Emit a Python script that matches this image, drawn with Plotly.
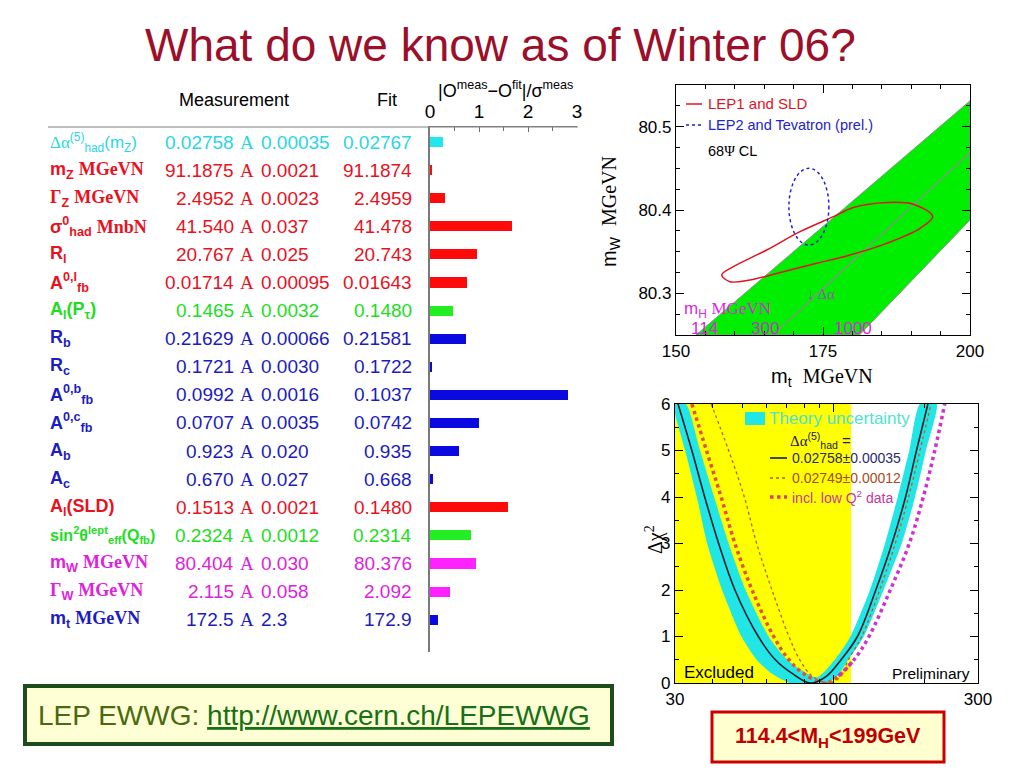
import numpy as np
import plotly.graph_objects as go

# page body adds an 8px margin, so the figure is offset by 8px
OFF = 8
W, H = 1024 - OFF, 768 - OFF
def px(x): return (x - OFF) / W
def py(y): return 1 - (y - OFF) / H

SANS = "Liberation Sans, Arial, sans-serif"
SERIF = "Liberation Serif, Times New Roman, serif"

def sf(s):
    return "<span style='font-family:Liberation Serif'>" + s + "</span>"

# ---------------- data: electroweak fit table ----------------
row_labels = [
    sf("Δα") + "<sup>(5)</sup><sub>had</sub>(m<sub>Z</sub>)",
    "m<sub>Z</sub> " + sf("MGeVN"),
    sf("Γ") + "<sub>Z</sub> " + sf("MGeVN"),
    "σ<sup>0</sup><sub>had</sub> " + sf("MnbN"),
    "R<sub>l</sub>",
    "A<sup>0,l</sup><sub>fb</sub>",
    "A<sub>l</sub>(P<sub>τ</sub>)",
    "R<sub>b</sub>",
    "R<sub>c</sub>",
    "A<sup>0,b</sup><sub>fb</sub>",
    "A<sup>0,c</sup><sub>fb</sub>",
    "A<sub>b</sub>",
    "A<sub>c</sub>",
    "A<sub>l</sub>(SLD)",
    "sin<sup>2</sup>θ<sup>lept</sup><sub>eff</sub>(Q<sub>fb</sub>)",
    "m<sub>W</sub> " + sf("MGeVN"),
    sf("Γ") + "<sub>W</sub> " + sf("MGeVN"),
    "m<sub>t</sub> " + sf("MGeVN"),
]
label_sizes = [17, 18, 18, 18, 18, 18, 18, 18, 18, 18, 18, 18, 18, 18, 16, 18, 18, 18]
label_bold = [False] + [True] * 17
meas_vals = ["0.02758", "91.1875", "2.4952", "41.540", "20.767", "0.01714", "0.1465",
             "0.21629", "0.1721", "0.0992", "0.0707", "0.923", "0.670", "0.1513",
             "0.2324", "80.404", "2.115", "172.5"]
meas_errs = ["0.00035", "0.0021", "0.0023", "0.037", "0.025", "0.00095", "0.0032",
             "0.00066", "0.0030", "0.0016", "0.0035", "0.020", "0.027", "0.0021",
             "0.0012", "0.030", "0.058", "2.3"]
fit_vals = ["0.02767", "91.1874", "2.4959", "41.478", "20.743", "0.01643", "0.1480",
            "0.21581", "0.1722", "0.1037", "0.0742", "0.935", "0.668", "0.1480",
            "0.2314", "80.376", "2.092", "172.9"]
pulls = [0.26, 0.05, 0.30, 1.67, 0.96, 0.75, 0.47, 0.73, 0.03, 2.82, 1.00, 0.60,
         0.07, 1.60, 0.83, 0.93, 0.40, 0.17]
row_groups = ["c", "r", "r", "r", "r", "r", "g", "b", "b", "b", "b", "b", "b",
              "r", "g", "m", "m", "b"]
text_col = {"c": "#2ad6e6", "r": "#e8121e", "g": "#22dd22", "b": "#1c1cc0", "m": "#dd22dd"}
bar_col = {"c": "#22e6ee", "r": "#ff0a0a", "g": "#22ee22", "b": "#0a0ae0", "m": "#ff22ff"}
pull_ticks = [0, 1, 2, 3]
pull_grid = [1, 2]

# ---------------- data: mW vs mt ----------------
band_upper_mt = [153.4, 200.0]
band_upper_mw = [80.25, 80.531]
band_lower_mt = [181.2, 200.0]
band_lower_mw = [80.25, 80.388]
mh300_mt = [166.5, 200.0]
mh300_mw = [80.25, 80.469]
lep1_mt = [171.09, 176.76, 180.16, 185.83, 190.36, 193.65, 191.50, 185.83, 179.59,
           173.92, 168.25, 162.59, 159.18, 157.77, 159.75, 165.42, 171.09]
lep1_mw = [80.374, 80.392, 80.403, 80.409, 80.407, 80.392, 80.378, 80.360, 80.346,
           80.336, 80.326, 80.316, 80.314, 80.322, 80.332, 80.352, 80.374]
lep2_mt_range = [169.2, 176.0]
lep2_mw_range = [80.358, 80.450]

# ---------------- data: delta chi2 vs mH ----------------
excl_limit = 114.4
mh_black = [30.7, 34.1, 37.6, 41.8, 47.3, 56.5, 64.3, 73.3, 84.0, 95.0, 106.0, 120.0,
            138.0, 156.0, 173.0, 188.0, 205.0]
d_black = [6.0, 5.0, 4.0, 3.0, 2.0, 1.0, 0.5, 0.2, 0.0, 0.15, 0.5, 1.0, 2.0, 3.0,
           4.0, 5.0, 6.0]
band_outer_mh = [30.0, 30.0, 32.4, 35.4, 38.3, 42.9, 49.7, 55.8, 62.7, 72.0, 84.0, 95.2,
                 103.0, 112.0, 126.0, 146.4, 168.0, 186.0, 202.0, 219.0]
band_outer_d = [6.0, 5.8, 5.0, 4.0, 3.0, 2.0, 1.0, 0.5, 0.2, 0.0, 0.0, 0.0, 0.15, 0.5,
                1.0, 2.0, 3.0, 4.0, 5.0, 6.0]
band_inner_mh = [193.0, 178.0, 163.0, 148.0, 132.0, 113.8, 101.0, 88.0, 70.4, 61.1,
                 51.3, 45.1, 40.4, 36.3, 32.6]
band_inner_d = [6.0, 5.0, 4.0, 3.0, 2.0, 1.0, 0.5, 0.12, 0.5, 1.0, 2.0, 3.0, 4.0,
                5.0, 6.0]
mh_thin = [39.5, 45.1, 50.8, 55.8, 62.7, 71.3, 77.4, 85.0, 96.0, 105.0, 112.0, 124.0,
           142.0, 160.0, 177.0, 193.0, 210.0]
d_thin = [6.0, 5.0, 4.0, 3.0, 2.0, 1.0, 0.5, 0.15, 0.0, 0.12, 0.5, 1.0, 2.0, 3.0,
          4.0, 5.0, 6.0]
mh_q2 = [34.1, 38.1, 42.6, 47.3, 53.9, 63.5, 71.3, 79.8, 94.0, 104.0, 117.0, 131.0,
         154.0, 178.0, 198.0, 216.0, 233.0]
d_q2 = [6.0, 5.0, 4.0, 3.0, 2.0, 1.0, 0.5, 0.2, 0.0, 0.15, 0.5, 1.0, 2.0, 3.0, 4.0,
        5.0, 6.0]

fig = go.Figure()

# ---- pull bars ----
nrows = len(pulls)
fig.add_trace(go.Bar(
    x=pulls, y=list(range(nrows)), orientation="h", width=0.36,
    marker=dict(color=[bar_col[g] for g in row_groups], line=dict(width=0)),
    xaxis="x", yaxis="y", showlegend=False, hoverinfo="skip"))

# ---- mW vs mt ----
fig.add_trace(go.Scatter(
    x=band_upper_mt + band_lower_mt[::-1] + band_upper_mt[:1],
    y=band_upper_mw + band_lower_mw[::-1] + band_upper_mw[:1],
    fill="toself", fillcolor="#00ee00", mode="lines",
    line=dict(color="#909090", width=1), xaxis="x3", yaxis="y3",
    showlegend=False, hoverinfo="skip"))
fig.add_trace(go.Scatter(x=mh300_mt, y=mh300_mw, mode="lines",
                         line=dict(color="#8f8f8f", width=1.2), xaxis="x3", yaxis="y3",
                         showlegend=False, hoverinfo="skip"))
fig.add_trace(go.Scatter(x=lep1_mt, y=lep1_mw, mode="lines",
                         line=dict(color="#e0141e", width=1.5, shape="spline", smoothing=1.0),
                         xaxis="x3", yaxis="y3", showlegend=False, hoverinfo="skip"))

# ---- delta chi2 ----
fig.add_trace(go.Scatter(
    x=[30, 30, excl_limit, excl_limit, 30], y=[0, 6, 6, 0, 0], fill="toself",
    fillcolor="#ffff00", mode="lines", line=dict(width=0),
    xaxis="x4", yaxis="y4", showlegend=False, hoverinfo="skip"))
fig.add_trace(go.Scatter(
    x=band_outer_mh + band_inner_mh + band_outer_mh[:1],
    y=band_outer_d + band_inner_d + band_outer_d[:1],
    fill="toself", fillcolor="#22e6e6", mode="lines",
    line=dict(width=0, shape="spline", smoothing=0.6),
    xaxis="x4", yaxis="y4", showlegend=False, hoverinfo="skip"))
fig.add_trace(go.Scatter(x=mh_thin, y=d_thin, mode="lines",
                         line=dict(color="#b8602a", width=1.3, dash="dot", shape="spline"),
                         xaxis="x4", yaxis="y4", showlegend=False, hoverinfo="skip"))
split = next(i for i, v in enumerate(mh_q2) if v > excl_limit)
fig.add_trace(go.Scatter(x=mh_q2[:split + 1], y=d_q2[:split + 1], mode="lines",
                         line=dict(color="#e2503e", width=3.5, dash="dot", shape="spline"),
                         xaxis="x4", yaxis="y4", showlegend=False, hoverinfo="skip"))
fig.add_trace(go.Scatter(x=mh_q2[split - 1:], y=d_q2[split - 1:], mode="lines",
                         line=dict(color="#d030d0", width=3.5, dash="dot", shape="spline"),
                         xaxis="x4", yaxis="y4", showlegend=False, hoverinfo="skip"))
fig.add_trace(go.Scatter(x=mh_black, y=d_black, mode="lines",
                         line=dict(color="#10202a", width=1.6, shape="spline"),
                         xaxis="x4", yaxis="y4", showlegend=False, hoverinfo="skip"))

# ---------------- axes ----------------
tickf = dict(family=SANS, size=17, color="black")
frame = dict(showline=True, linecolor="black", linewidth=1.2, mirror="ticks",
             ticks="inside", ticklen=8, tickwidth=1, tickcolor="black",
             showgrid=False, zeroline=False, tickfont=tickf, automargin=False)

layout = dict(
    width=W, height=H, margin=dict(l=0, r=0, t=0, b=0, pad=0, autoexpand=False),
    paper_bgcolor="white", plot_bgcolor="rgba(0,0,0,0)", showlegend=False,
    bargap=0,
    xaxis=dict(domain=[px(430), px(577)], range=[0, 3], side="top", anchor="y",
               tickvals=pull_ticks, ticks="inside", ticklen=5, tickcolor="#707070",
               showline=True, linecolor="#808080", linewidth=1.2, showgrid=False,
               zeroline=False, automargin=False,
               tickfont=dict(family=SANS, size=19, color="black"),
               minor=dict(ticks="inside", ticklen=4, dtick=0.5, tick0=0, tickcolor="#707070")),
    xaxis2=dict(overlaying="x", anchor="y", side="bottom", range=[0, 3],
                tickvals=pull_ticks, ticks="", showline=False, showgrid=False,
                zeroline=False, automargin=False,
                tickfont=dict(family=SANS, size=19, color="black")),
    xaxis5=dict(overlaying="x", anchor="y", side="bottom", range=[0, 3],
                tickvals=pull_grid, showticklabels=False, ticks="", showline=False,
                showgrid=True, gridcolor="#8a8a8a", gridwidth=1.2, zeroline=False,
                automargin=False),
    yaxis=dict(domain=[py(652), py(127)], range=[18.15, -0.534], anchor="x",
               showticklabels=False, ticks="", showgrid=False, zeroline=False,
               showline=True, linecolor="#7a7a7a", linewidth=1.5, automargin=False),
    xaxis3=dict(domain=[px(676), px(970)], range=[150, 200], anchor="y3",
                tickvals=[150, 175, 200],
                minor=dict(ticks="inside", ticklen=4, dtick=5, tick0=150, tickcolor="black"),
                **frame),
    yaxis3=dict(domain=[py(335), py(85)], range=[80.25, 80.55], anchor="x3",
                tickvals=[80.3, 80.4, 80.5], ticktext=["80.3", "80.4", "80.5"],
                minor=dict(ticks="inside", ticklen=4, dtick=0.025, tick0=80.25,
                           tickcolor="black"),
                **frame),
    xaxis4=dict(domain=[px(675), px(978)], type="log",
                range=[np.log10(30), np.log10(300)], anchor="y4",
                tickvals=[30, 100, 300], ticktext=["30", "100", "300"],
                minor=dict(ticks="inside", ticklen=4, tickvals=[40, 50, 60, 70, 80, 90, 200],
                           tickcolor="black"),
                **frame),
    yaxis4=dict(domain=[py(683), py(404)], range=[0, 6], anchor="x4",
                tickvals=[0, 1, 2, 3, 4, 5, 6],
                minor=dict(ticks="inside", ticklen=4, dtick=0.5, tick0=0, tickcolor="black"),
                **frame),
)

# ---------------- annotations ----------------
ann = []
def A(x, y, text, size, color="black", family=SANS, xanchor="center",
      yanchor="middle", xref="paper", yref="paper", angle=0):
    ann.append(dict(x=x, y=y, xref=xref, yref=yref, text=text, showarrow=False,
                    font=dict(family=family, size=size, color=color),
                    xanchor=xanchor, yanchor=yanchor, textangle=angle))

A(px(500), py(45), "What do we know as of Winter 06?", 46, "#9c0f2a", SANS)

A(px(234), py(100), "Measurement", 18)
A(px(387), py(100), "Fit", 18)
A(px(505), py(89), "|O<sup>meas</sup>−O<sup>fit</sup>|/σ<sup>meas</sup>", 18)

for i in range(nrows):
    c = text_col[row_groups[i]]
    lab = "<b>" + row_labels[i] + "</b>" if label_bold[i] else row_labels[i]
    A(px(48), i, lab, label_sizes[i], c, SANS, "left", yref="y")
    A(px(236), i, meas_vals[i], 19, c, SANS, "right", yref="y")
    A(px(247), i, "A", 19, c, SERIF, "center", yref="y")
    A(px(259), i, meas_errs[i], 19, c, SANS, "left", yref="y")
    A(px(414), i, fit_vals[i], 19, c, SANS, "right", yref="y")

# mW-mt plot texts
A(px(706), py(104), "LEP1 and SLD", 15, "#e0141e", SANS, "left")
A(px(706), py(125), "LEP2 and Tevatron (prel.)", 14.5, "#2222d0", SANS, "left")
A(px(706), py(151), "68" + sf("Ψ") + " CL", 14.5, "black", SANS, "left")
A(px(805), py(294), sf("↓ Δα"), 15, "#9060a0", SERIF, "left")
A(px(682), py(310), "m<sub>H</sub> " + sf("MGeVN"), 17, "#d82ad8", SANS, "left")
A(px(704), py(328), "114", 17, "#d82ad8")
A(px(765), py(328), "300", 17, "#b040b0")
A(px(853), py(328), "1000", 17, "#d82ad8")
A(px(611), py(212), "m<sub>W</sub>  " + sf("MGeVN"), 20, "black", SANS, angle=-90)
A(px(822), py(377), "m<sub>t</sub>  " + sf("MGeVN"), 20, "black", SANS)

# delta chi2 plot texts
A(px(767), py(418), "Theory uncertainty", 17, "#4ee2d2", SANS, "left")
A(px(788), py(440), sf("Δα") + "<sup>(5)</sup><sub>had</sub> =", 15, "#1a1a60", SANS, "left")
A(px(790), py(458), "0.02758±0.00035", 14, "#2a2a6a", SANS, "left")
A(px(790), py(478), "0.02749±0.00012", 14, "#a84a20", SANS, "left")
A(px(790), py(497), "incl. low Q<sup>2</sup> data", 14, "#c8389a", SANS, "left")
A(px(682), py(672), "Excluded", 17, "black", SANS, "left")
A(px(972), py(673), "Preliminary", 15.5, "black", SANS, "right")
A(px(654), py(540), sf("Δχ") + "<sup>2</sup>", 20, "black", SERIF, angle=-90)

# boxes
A(px(314), py(715), "<span style='color:#4a6a10'>LEP EWWG: </span><u>http://www.cern.ch/LEPEWWG</u>",
  28, "#177017", SANS)
A(px(828), py(737), "<b>114.4&lt;M<sub>H</sub>&lt;199GeV</b>", 21.5, "#c00000", SANS)

layout["annotations"] = ann

# ---------------- shapes (frames, legend keys) ----------------
shapes = [
    dict(type="line", xref="paper", yref="paper", x0=px(48), x1=px(578), y0=py(127),
         y1=py(127), line=dict(color="#808080", width=1.2)),
    dict(type="circle", xref="x3", yref="y3", x0=lep2_mt_range[0], x1=lep2_mt_range[1],
         y0=lep2_mw_range[0], y1=lep2_mw_range[1],
         line=dict(color="#2020d0", width=1.5, dash="dot")),
    dict(type="line", xref="paper", yref="paper", x0=px(686), x1=px(702), y0=py(104),
         y1=py(104), line=dict(color="#e0141e", width=1.5)),
    dict(type="line", xref="paper", yref="paper", x0=px(686), x1=px(702), y0=py(125),
         y1=py(125), line=dict(color="#2020d0", width=1.5, dash="dot")),
    dict(type="rect", xref="paper", yref="paper", x0=px(745), x1=px(765), y0=py(425),
         y1=py(412), line=dict(width=0), fillcolor="#22e6e6"),
    dict(type="line", xref="paper", yref="paper", x0=px(770), x1=px(787), y0=py(458),
         y1=py(458), line=dict(color="#10202a", width=1.6)),
    dict(type="line", xref="paper", yref="paper", x0=px(770), x1=px(787), y0=py(478),
         y1=py(478), line=dict(color="#b8602a", width=1.3, dash="dot")),
    dict(type="line", xref="paper", yref="paper", x0=px(770), x1=px(787), y0=py(497),
         y1=py(497), line=dict(color="#d8407a", width=3.5, dash="dot")),
    dict(type="rect", xref="paper", yref="paper", x0=px(25), x1=px(612), y0=py(744),
         y1=py(686), line=dict(color="#1d4d1d", width=4), fillcolor="#ffffd5"),
    dict(type="rect", xref="paper", yref="paper", x0=px(712), x1=px(944), y0=py(762),
         y1=py(712), line=dict(color="#cc0000", width=3), fillcolor="#ffffd0"),
]
layout["shapes"] = shapes

fig.update_layout(**layout)
fig.write_html("out.html")
